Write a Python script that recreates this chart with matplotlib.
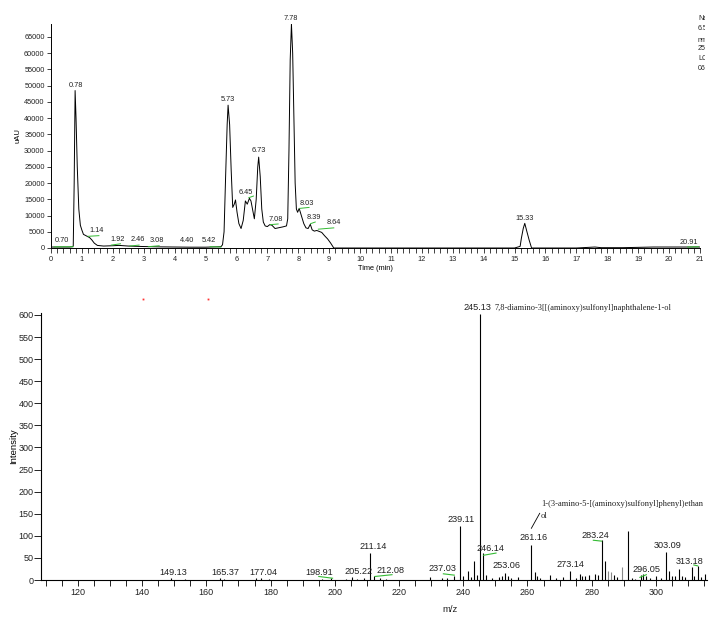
import matplotlib
matplotlib.use("Agg")
import matplotlib.pyplot as plt
from matplotlib.ticker import MultipleLocator
from matplotlib.transforms import Bbox

plt.rcParams['font.family'] = ['Liberation Sans', 'DejaVu Sans']

# ---------------- chromatogram data ----------------
chrom_t = [0.0, 0.3, 0.6, 0.70, 0.72, 0.75, 0.78, 0.81, 0.85, 0.90, 0.95, 1.00, 1.05, 1.15, 1.25,
           1.32, 1.40, 1.50, 1.70, 2.00, 2.20, 2.50, 3.00, 3.50, 4.00, 4.50, 5.00, 5.50, 5.55,
           5.60, 5.65, 5.70, 5.73, 5.78, 5.83, 5.88, 5.93, 5.97, 6.02, 6.08, 6.15, 6.22, 6.29,
           6.35, 6.42, 6.47, 6.52, 6.58, 6.64, 6.69, 6.72, 6.77, 6.82, 6.87, 6.93, 7.00, 7.08,
           7.15, 7.25, 7.35, 7.50, 7.62, 7.66, 7.70, 7.74, 7.78, 7.82, 7.86, 7.90, 7.94, 7.98,
           8.03, 8.10, 8.18, 8.25, 8.32, 8.39, 8.45, 8.52, 8.60, 8.68, 8.76, 8.85, 8.95, 9.05,
           9.15, 10.0, 12.0, 14.0, 15.0, 15.18, 15.22, 15.28, 15.33, 15.40, 15.47, 15.55, 16.0,
           17.0, 17.4, 17.6, 17.8, 18.5, 19.0, 19.5, 20.0, 20.5, 20.9, 21.0]
chrom_v = [300, 300, 300, 400, 700, 20000, 48500, 40000, 25000, 12000, 7000, 5500, 4200, 3700, 3200,
           2500, 1500, 800, 600, 700, 800, 600, 450, 350, 300, 250, 250, 400, 1000,
           5000, 22000, 38000, 44000, 38000, 24000, 12500, 13500, 14800, 11000, 7500, 6000, 8500, 14500,
           13500, 15300, 14500, 12000, 9000, 15000, 25000, 28000, 22000, 12000, 8000, 6800, 6600, 7200,
           7000, 6000, 6200, 6500, 6800, 9000, 30000, 58000, 69000, 60000, 40000, 20000, 12000, 11000,
           12200, 10000, 7500, 6200, 6000, 7300, 5600, 5200, 5400, 5100, 4800, 3800, 2800, 1500,
           0, 0, 0, 0, 0, 500, 3000, 6000, 7600, 5000, 2500, 0, 0,
           0, 200, 300, 100, 100, 200, 300, 300, 300, 300, 300]

chrom_lbl = ['0.70', '0.78', '1.14', '1.92', '2.46', '3.08', '4.40', '5.42', '5.73', '6.45',
             '6.73', '7.08', '7.78', '8.03', '8.39', '8.64', '15.33', '20.91']
chrom_lbl_x = [0.37, 0.81, 1.47, 2.14, 2.80, 3.43, 4.40, 5.11, 5.73, 6.31,
               6.72, 7.26, 7.76, 8.27, 8.52, 9.16, 15.34, 20.63]
chrom_lbl_y = [2300, 50200, 5350, 2700, 2500, 2300, 2300, 2300, 45700, 17100,
               30000, 8800, 70800, 13600, 9500, 7800, 9150, 1650]

# green baseline markers (t0, v0, t1, v1)
chrom_green = [(0.10, 350, 0.72, 400), (1.20, 3600, 1.55, 3800), (1.95, 900, 2.25, 1300),
               (2.55, 600, 2.85, 900), (3.15, 400, 3.50, 700), (5.15, 400, 5.50, 300),
               (6.40, 15500, 6.55, 16000), (7.10, 7200, 7.35, 7400), (8.05, 12200, 8.35, 12500),
               (8.40, 7500, 8.55, 8000), (8.65, 5800, 9.15, 6200), (20.60, 300, 20.95, 400)]

# ---------------- mass spectrum data ----------------
ms_mz = [149.1, 153.2, 164.2, 165.4, 175.5, 177.0, 179.5, 196.0, 198.9, 203.5, 205.2, 207.0,
         209.0, 211.1, 212.1, 214.0, 216.0, 229.5, 233.5, 235.0, 237.0, 239.1, 240.0, 241.4,
         242.4, 243.3, 244.3, 245.1, 246.1, 247.0, 249.0, 251.0, 252.0, 253.1, 254.0, 255.0,
         257.0, 261.2, 262.2, 263.0, 264.0, 267.0, 269.0, 271.0, 273.1, 275.0, 276.3, 277.0,
         278.0, 279.3, 281.0, 282.0, 283.2, 284.2, 285.2, 286.0, 287.0, 288.0, 289.3, 291.2,
         292.5, 293.5, 295.3, 296.0, 297.0, 298.0, 300.0, 301.5, 303.1, 304.2, 305.0, 306.0,
         307.2, 308.0, 309.0, 311.2, 312.0, 313.2, 314.0, 315.3]
ms_int = [4, 3, 4, 3, 4, 5, 3, 3, 4, 3, 6, 3,
          4, 60, 8, 4, 3, 6, 4, 5, 10, 122, 10, 20,
          6, 43, 12, 602, 60, 12, 5, 6, 8, 16, 10, 5,
          6, 80, 17, 9, 4, 11, 4, 6, 20, 5, 13, 10,
          8, 12, 14, 11, 90, 43, 20, 19, 11, 6, 29, 112,
          5, 3, 11, 13, 8, 4, 9, 5, 63, 20, 8, 10,
          25, 8, 6, 29, 10, 32, 6, 14]
ms_gray = [289.3, 285.2, 286.0]

ms_lbl = ['149.13', '165.37', '177.04', '198.91', '205.22', '211.14', '212.08', '237.03',
          '239.11', '246.14', '253.06', '261.16', '273.14', '283.24', '296.05', '303.09', '313.18']
ms_lbl_x = [149.6, 165.8, 177.7, 195.2, 207.3, 211.9, 217.4, 233.5,
            239.3, 248.4, 253.6, 261.8, 273.4, 281.0, 297.1, 303.5, 310.6]
ms_lbl_y = [16, 16, 18, 17, 20, 75, 21, 26,
            136, 72, 32, 96, 34, 100, 24, 77, 43]

ms_green = [(195.0, 8, 199.3, 4), (212.5, 8, 217.8, 12), (233.8, 14, 237.2, 11),
            (246.3, 56, 250.2, 61), (280.5, 90, 283.1, 88), (295.0, 6, 297.0, 12),
            (311.8, 34, 313.0, 32)]

name_main = "7,8-diamino-3[[(aminoxy)sulfonyl]naphthalene-1-ol"
name_2a = "1-(3-amino-5-[(aminoxy)sulfonyl]phenyl)ethan"
name_2b = "ol"

side_text = ["Name", "6.5", "nm", "254", "LC", "06"]
side_y_px = [18, 28, 40, 49, 58, 68]

# ---------------- figure ----------------
W, H = 718, 630
fig = plt.figure(figsize=(W / 100, H / 100), dpi=100)
fig.patch.set_facecolor('white')

# top panel
ax1 = fig.add_axes([51 / W, (H - 248) / H, 649 / W, 224 / H])
ax1.plot(chrom_t, chrom_v, color='black', lw=0.7)
for (t0, v0, t1, v1) in chrom_green:
    ax1.plot([t0, t1], [v0, v1], color='#33bb33', lw=0.7)
for s, x, y in zip(chrom_lbl, chrom_lbl_x, chrom_lbl_y):
    ax1.text(x, y, s, ha='center', va='center', fontsize=5.3, color='#222222', clip_on=False)
ax1.set_xlim(0, 21)
ax1.set_ylim(0, 69000)
ax1.xaxis.set_major_locator(MultipleLocator(1))
ax1.xaxis.set_minor_locator(MultipleLocator(0.2))
ax1.yaxis.set_major_locator(MultipleLocator(5000))
ax1.tick_params(axis='both', which='both', direction='out', labelsize=5.3, width=0.6,
                length=3, pad=1.5, colors='#222222')
ax1.tick_params(axis='x', which='both', length=3.5, pad=2)
for sp in ['top', 'right']:
    ax1.spines[sp].set_visible(False)
for sp in ['left', 'bottom']:
    ax1.spines[sp].set_linewidth(0.7)
ax1.set_xlabel('Time (min)', fontsize=5.3, labelpad=1.5)
ax1.set_ylabel('uAU', fontsize=5.5, labelpad=2)

clip_bb = Bbox([[0, 0], [705, H]])
for s, y in zip(side_text, side_y_px):
    t = fig.text(698 / W, 1 - y / H, s, fontsize=5, ha='left', va='center', color='#222222')
    t.set_clip_on(True)
    t.set_clip_box(clip_bb)

# bottom panel
ax2 = fig.add_axes([41 / W, 50 / H, 666 / W, 267 / H])
cols = ['#888888' if m in ms_gray else 'black' for m in ms_mz]
ax2.vlines(ms_mz, 0, ms_int, colors=cols, lw=0.8)
for (x0, y0, x1, y1) in ms_green:
    ax2.plot([x0, x1], [y0, y1], color='#33bb33', lw=0.8)
for s, x, y in zip(ms_lbl, ms_lbl_x, ms_lbl_y):
    ax2.text(x, y, s, ha='center', va='center', fontsize=6.6, color='#222222',
             clip_on=(s == '313.18'))
ax2.text(244.4, 616, '245.13', ha='center', va='center', fontsize=6.6, color='#222222', clip_on=False)
ax2.text(249.6, 616, name_main, ha='left', va='center', fontsize=6.0, color='#222222',
         family=['Liberation Serif', 'DejaVu Serif'], clip_on=False)
ax2.text(264.3, 172, name_2a, ha='left', va='center', fontsize=6.1, color='#222222',
         family=['Liberation Serif', 'DejaVu Serif'], clip_on=False)
ax2.text(264.0, 146, name_2b, ha='left', va='center', fontsize=6.1, color='#222222',
         family=['Liberation Serif', 'DejaVu Serif'], clip_on=False)
ax2.plot([261.2, 263.8], [117, 151], color='black', lw=0.6)
ax2.plot([140.2, 160.4], [637, 637], ls='none', marker='s', ms=1.3, mew=0, color='#ff3333', clip_on=False)

ax2.set_xlim(108.5, 315.9)
ax2.set_ylim(0, 604.5)
ax2.xaxis.set_major_locator(MultipleLocator(20))
ax2.xaxis.set_minor_locator(MultipleLocator(5))
ax2.yaxis.set_major_locator(MultipleLocator(50))
ax2.tick_params(axis='both', which='both', direction='out', labelsize=6.5, width=0.7,
                colors='#222222')
ax2.tick_params(axis='y', length=5, pad=0.5)
ax2.tick_params(axis='x', which='both', length=4, pad=2)
for sp in ['top', 'right']:
    ax2.spines[sp].set_visible(False)
for sp in ['left', 'bottom']:
    ax2.spines[sp].set_linewidth(0.8)
ax2.set_ylabel('Intensity', fontsize=6.8, labelpad=0)
fig.text(450 / W, 1 - 610 / H, 'm/z', fontsize=6.8, ha='center', va='center', color='#222222')

fig.savefig('out.png', dpi=100)
